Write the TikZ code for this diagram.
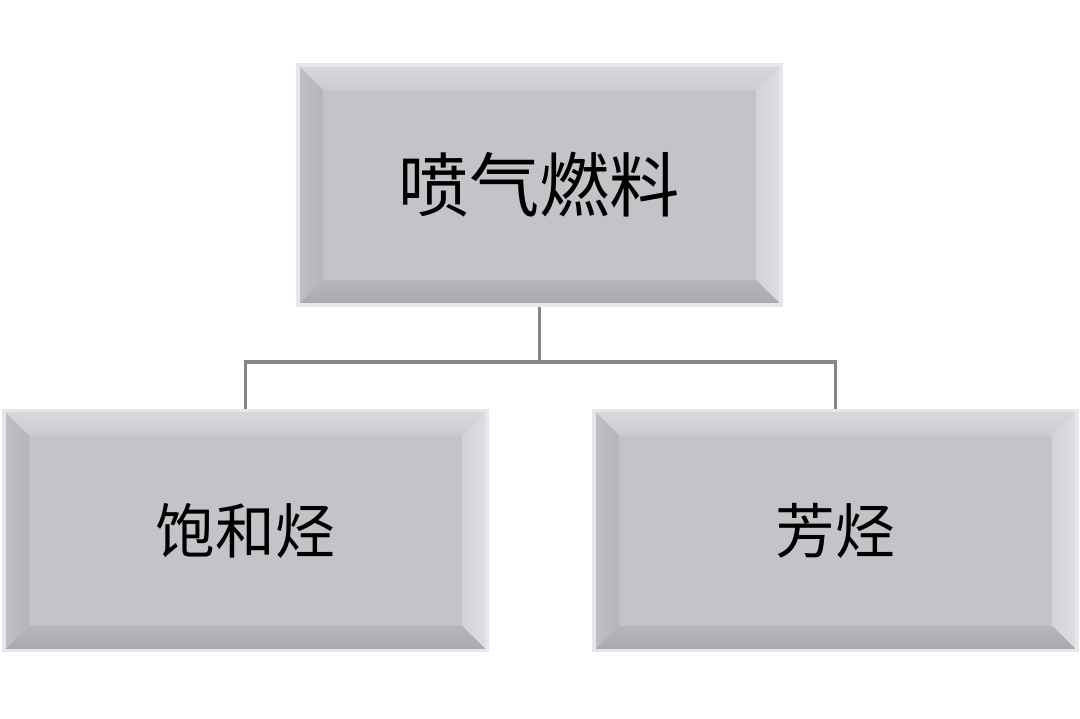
\documentclass[tikz,border=0pt]{standalone}
\usepackage{fontspec}
\newfontfamily\cjk{Noto Sans CJK SC}
\usetikzlibrary{positioning,calc}
\definecolor{boxface}{HTML}{C4C3C8}
\definecolor{bevtop}{HTML}{D9D8DF}
\definecolor{bevleft}{HTML}{B6B5BB}
\definecolor{bevright}{HTML}{DEDDE4}
\definecolor{bevbottom}{HTML}{A9A8AE}
\definecolor{boxrim}{HTML}{E6E6EC}
\definecolor{linkgray}{HTML}{858585}
\tikzset{
    bevelbox/.style={rectangle, minimum width=4.83cm, minimum height=2.4cm,
        fill=boxface, draw=boxrim, line width=1pt, inner sep=0pt, font=\cjk,
        path picture={
            \def\bw{0.25cm}
            \coordinate (nw) at (path picture bounding box.north west);
            \coordinate (ne) at (path picture bounding box.north east);
            \coordinate (sw) at (path picture bounding box.south west);
            \coordinate (se) at (path picture bounding box.south east);
            \shade[top color=bevtop, bottom color=boxface!60!bevtop] (nw) -- (ne) -- ([xshift=-\bw,yshift=-\bw]ne) -- ([xshift=\bw,yshift=-\bw]nw) -- cycle;
            \shade[left color=boxface!70!bevleft, right color=bevleft] (nw) -- ([xshift=\bw,yshift=-\bw]nw) -- ([xshift=\bw,yshift=\bw]sw) -- (sw) -- cycle;
            \shade[left color=boxface!40!bevright, right color=bevright] (ne) -- (se) -- ([xshift=-\bw,yshift=\bw]se) -- ([xshift=-\bw,yshift=-\bw]ne) -- cycle;
            \shade[top color=boxface!50!bevbottom, bottom color=bevbottom] (sw) -- ([xshift=\bw,yshift=\bw]sw) -- ([xshift=-\bw,yshift=\bw]se) -- (se) -- cycle;
        }},
    link/.style={draw=linkgray, line width=1pt}
}
\begin{document}
\begin{tikzpicture}
    % Fix the page size.
    \useasboundingbox[fill=white] (0,0) rectangle (10.8,7.18);

    % Boxes.
    \node[bevelbox, font=\cjk\fontsize{20}{24}\selectfont] (fuel) at (5.395,5.33) {喷气燃料};
    \node[bevelbox, font=\cjk\fontsize{17}{20}\selectfont] (alkane) at (2.455,1.875) {饱和烃};
    \node[bevelbox, font=\cjk\fontsize{17}{20}\selectfont] (arom) at (8.355,1.875) {芳烃};

    % Tree links.
    \draw[link] (fuel.south) -- ++(0,-0.55) -| (alkane.north);
    \draw[link] (fuel.south) -- ++(0,-0.55) -| (arom.north);
\end{tikzpicture}
\end{document}
